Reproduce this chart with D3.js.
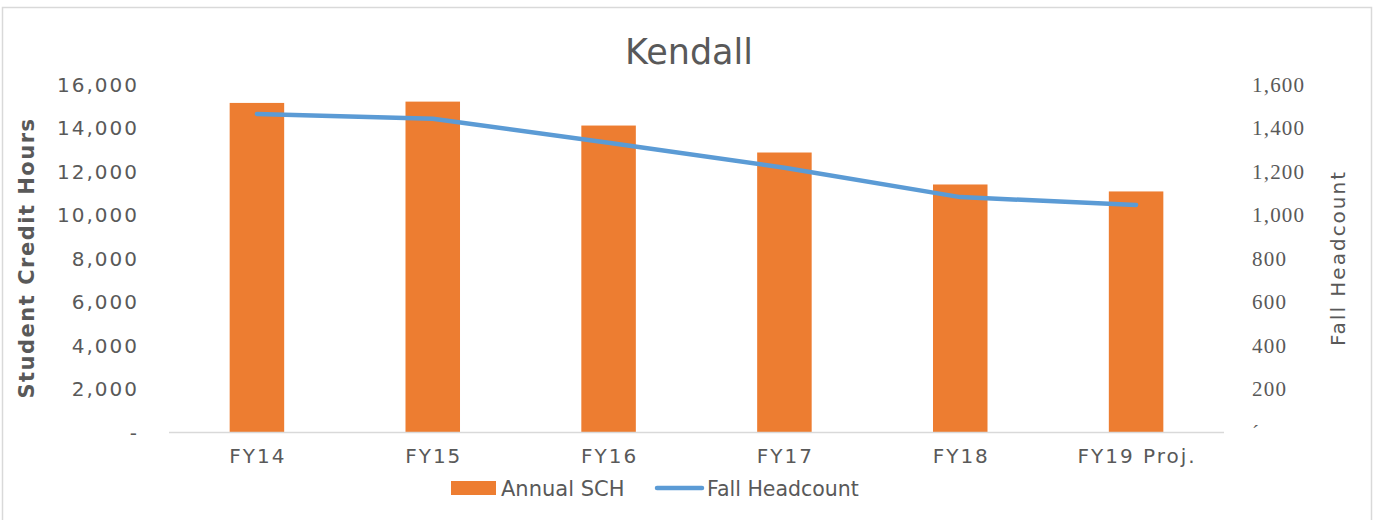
<!DOCTYPE html>
<html>
<head>
<meta charset="utf-8">
<script src="https://cdn.jsdelivr.net/npm/d3@7"></script>
<style>
  body { margin: 0; background: #fff; }
  svg text { fill: #595959; }
</style>
</head>
<body>
<div id="chart"></div>
<script>
// chart data
var years = ["FY14", "FY15", "FY16", "FY17", "FY18", "FY19 Proj."];
var annualSCH = [15130, 15190, 14090, 12850, 11380, 11060];
var fallHeadcount = [1462, 1440, 1330, 1215, 1080, 1044];
var leftTicks = [0, 2000, 4000, 6000, 8000, 10000, 12000, 14000, 16000];
var rightTicks = [0, 200, 400, 600, 800, 1000, 1200, 1400, 1600];

var w = 1379;
var h = 520;
var sans = "'DejaVu Sans', sans-serif";
var serif = "'Liberation Serif', 'DejaVu Serif', serif";

var svg = d3.select("#chart")
    .append("svg")
    .attr("width", w)
    .attr("height", h);

// outer chart frame
svg.append("rect")
    .attr("x", 2.5)
    .attr("y", 7.5)
    .attr("width", 1369)
    .attr("height", 530)
    .attr("fill", "none")
    .attr("stroke", "#d9d9d9")
    .attr("stroke-width", 1.5);

var x = d3.scaleBand()
    .domain(years)
    .range([169, 1224])
    .paddingInner(0.69)
    .paddingOuter(0.345);

var yLeft = d3.scaleLinear().domain([0, 16000]).range([432, 84]);
var yRight = d3.scaleLinear().domain([0, 1600]).range([432, 84]);

var fmt = d3.format(",");

// title
svg.append("text")
    .attr("x", 689)
    .attr("y", 64)
    .attr("text-anchor", "middle")
    .style("font-family", sans)
    .style("font-size", "35px")
    .text("Kendall");

// bars
svg.selectAll(".bar")
    .data(annualSCH)
    .enter()
    .append("rect")
    .attr("class", "bar")
    .attr("x", function (d, i) { return x(years[i]); })
    .attr("y", function (d) { return yLeft(d); })
    .attr("width", x.bandwidth())
    .attr("height", function (d) { return yLeft(0) - yLeft(d); })
    .attr("fill", "#ed7d31");

// baseline
svg.append("line")
    .attr("x1", 169)
    .attr("x2", 1224)
    .attr("y1", yLeft(0) + 0.5)
    .attr("y2", yLeft(0) + 0.5)
    .attr("stroke", "#d9d9d9")
    .attr("stroke-width", 1.5);

// headcount line
var line = d3.line()
    .x(function (d, i) { return x(years[i]) + x.bandwidth() / 2; })
    .y(function (d) { return yRight(d); });

svg.append("path")
    .datum(fallHeadcount)
    .attr("d", line)
    .attr("fill", "none")
    .attr("stroke", "#5b9bd5")
    .attr("stroke-width", 4.5)
    .attr("stroke-linecap", "round")
    .attr("stroke-linejoin", "round");

// left axis
var leftAxis = d3.axisLeft(yLeft)
    .tickValues(leftTicks)
    .tickSize(0)
    .tickPadding(0)
    .tickFormat(function (d) { return d === 0 ? "-" : fmt(d); });

var gL = svg.append("g")
    .attr("transform", "translate(139,0)")
    .call(leftAxis);
gL.select(".domain").remove();
gL.selectAll("text")
    .style("font-family", sans)
    .style("font-size", "20px")
    .style("letter-spacing", "2px")
    .attr("dy", "0.35em");

// right axis
var rightAxis = d3.axisRight(yRight)
    .tickValues(rightTicks)
    .tickSize(0)
    .tickPadding(0)
    .tickFormat(function (d) { return d === 0 ? "\u00b4" : fmt(d); });

var gR = svg.append("g")
    .attr("transform", "translate(1252,0)")
    .call(rightAxis);
gR.select(".domain").remove();
gR.selectAll("text")
    .style("font-family", serif)
    .style("font-size", "21px")
    .style("letter-spacing", "1.2px")
    .attr("dy", "0.35em");

// x axis
var xAxis = d3.axisBottom(x).tickSize(0).tickPadding(0);
var gX = svg.append("g")
    .attr("transform", "translate(1,449)")
    .call(xAxis);
gX.select(".domain").remove();
gX.selectAll("text")
    .style("font-family", sans)
    .style("font-size", "20px")
    .style("letter-spacing", "2px")
    .attr("dy", "0.71em");

// axis titles
svg.append("text")
    .attr("transform", "translate(34,258) rotate(-90)")
    .attr("text-anchor", "middle")
    .style("font-family", sans)
    .style("font-size", "21px")
    .style("font-weight", "bold")
    .style("letter-spacing", "1.5px")
    .text("Student Credit Hours");

svg.append("text")
    .attr("transform", "translate(1345,258) rotate(-90)")
    .attr("text-anchor", "middle")
    .style("font-family", sans)
    .style("font-size", "20px")
    .style("letter-spacing", "2px")
    .text("Fall Headcount");

// legend
var legend = svg.append("g");
legend.append("rect")
    .attr("x", 451)
    .attr("y", 481)
    .attr("width", 45)
    .attr("height", 14)
    .attr("fill", "#ed7d31");
legend.append("text")
    .attr("x", 501)
    .attr("y", 496)
    .style("font-family", sans)
    .style("font-size", "21px")
    .text("Annual SCH");
legend.append("line")
    .attr("x1", 657)
    .attr("x2", 702)
    .attr("y1", 488)
    .attr("y2", 488)
    .attr("stroke", "#5b9bd5")
    .attr("stroke-width", 4.5)
    .attr("stroke-linecap", "round");
legend.append("text")
    .attr("x", 707)
    .attr("y", 496)
    .style("font-family", sans)
    .style("font-size", "20.5px")
    .text("Fall Headcount");
</script>
</body>
</html>
